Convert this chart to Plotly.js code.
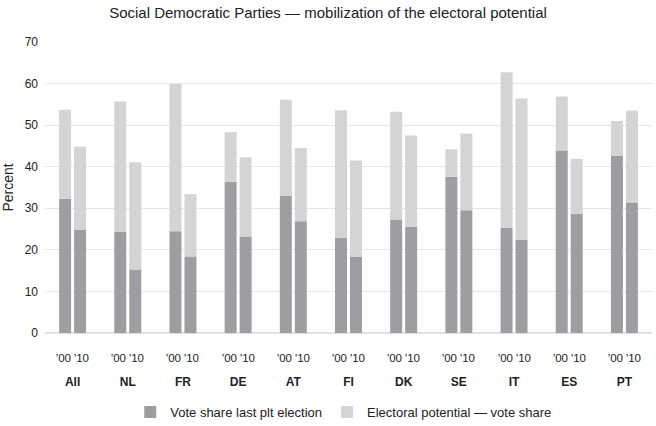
<!DOCTYPE html>
<html>
<head>
<meta charset="utf-8">
<script src="https://cdn.plot.ly/plotly-3.0.1.min.js"></script>
<style>html,body{margin:0;padding:0;background:#fff}#chart{width:656px;height:426px}</style>
</head>
<body>
<div id="chart"></div>
<script>
const countries = ["All","NL","FR","DE","AT","FI","DK","SE","IT","ES","PT"];
const yearLabels = ["'00","'10"];
const vote00 = [32.3,24.3,24.5,36.4,33.0,22.9,27.3,37.6,25.3,43.9,42.6];
const vote10 = [24.9,15.3,18.4,23.2,26.9,18.4,25.5,29.5,22.5,28.6,31.4];
const potential00 = [53.7,55.7,59.9,48.3,56.1,53.6,53.2,44.2,62.7,56.9,51.0];
const potential10 = [44.8,41.1,33.4,42.3,44.5,41.5,47.5,48.0,56.4,41.9,53.5];

const darkColor = "#9d9ea2";
const lightColor = "#d3d4d6";
const gap00 = potential00.map((p,i)=>+(p - vote00[i]).toFixed(1));
const gap10 = potential10.map((p,i)=>+(p - vote10[i]).toFixed(1));

const traces = [
  {type:"bar", x:countries, y:vote00, offsetgroup:"00", name:"Vote share last plt election",
   legendgroup:"vote", marker:{color:darkColor}},
  {type:"bar", x:countries, y:gap00, base:vote00, offsetgroup:"00", name:"Electoral potential \u2014 vote share",
   legendgroup:"pot", marker:{color:lightColor}},
  {type:"bar", x:countries, y:vote10, offsetgroup:"10", name:"Vote share last plt election",
   legendgroup:"vote", showlegend:false, marker:{color:darkColor}},
  {type:"bar", x:countries, y:gap10, base:vote10, offsetgroup:"10", name:"Electoral potential \u2014 vote share",
   legendgroup:"pot", showlegend:false, marker:{color:lightColor}}
];

const annotations = [];
countries.forEach(c=>{
  yearLabels.forEach((yl,k)=>{
    annotations.push({x:c, y:0, xref:"x", yref:"y", text:yl, showarrow:false,
      xanchor:"center", yanchor:"middle", yshift:-25, xshift:(k===0?-9:9),
      font:{size:11.5, color:"#222"}});
  });
});

const layout = {
  width:656, height:426,
  margin:{l:45, r:4, t:42, b:93},
  paper_bgcolor:"#fff", plot_bgcolor:"#fff",
  font:{family:"Liberation Sans, Arial, sans-serif", color:"#222", size:12},
  title:{text:"Social Democratic Parties \u2014 mobilization of the electoral potential",
    font:{size:15, color:"#222"}, x:0.5, xanchor:"center", xref:"container",
    y:0.969, yanchor:"middle", yref:"container"},
  barmode:"group", bargap:0.457, bargroupgap:0.2,
  xaxis:{type:"category", showgrid:false, zeroline:false, showline:false, ticks:"",
    tickfont:{size:12, weight:"bold", color:"#222"}, ticklabelstandoff:40},
  yaxis:{range:[0,70], dtick:10, showgrid:true, gridcolor:"#e6e6e6", gridwidth:1,
    zeroline:true, zerolinecolor:"#e2e2e2", zerolinewidth:1.5, showline:false, ticks:"",
    tickfont:{size:12, color:"#222"}, ticklabelstandoff:6,
    title:{text:"Percent", font:{size:14, color:"#222"}, standoff:8}},
  legend:{orientation:"h", x:0.524, xanchor:"center", xref:"container",
    y:0.033, yanchor:"middle", yref:"container",
    font:{size:13, color:"#222"}, itemwidth:30, traceorder:"normal"},
  annotations:annotations,
  showlegend:true
};

Plotly.newPlot("chart", traces, layout, {displayModeBar:false, staticPlot:true});
</script>
</body>
</html>
